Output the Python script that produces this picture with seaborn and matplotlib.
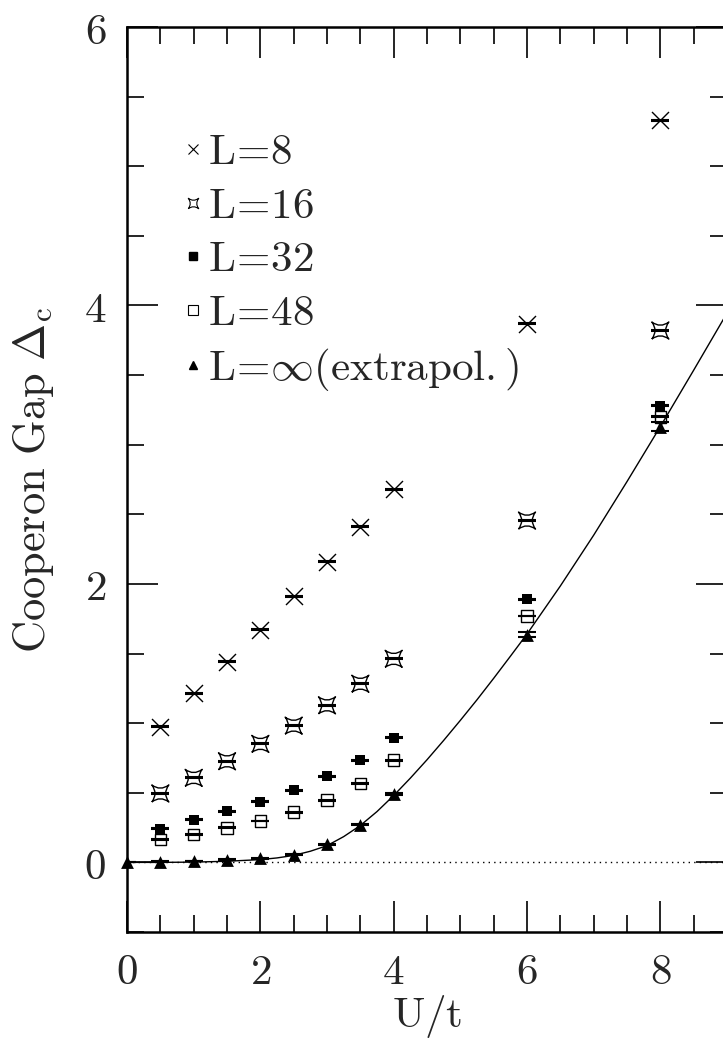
import numpy as np
import matplotlib
matplotlib.use("Agg")
import matplotlib.pyplot as plt
import seaborn as sns
from matplotlib.path import Path
from matplotlib.lines import Line2D
from matplotlib.ticker import MultipleLocator

# data
u_vals = [0.5, 1.0, 1.5, 2.0, 2.5, 3.0, 3.5, 4.0, 6.0, 8.0]
gap_L8 = [0.975, 1.215, 1.44, 1.67, 1.91, 2.16, 2.41, 2.68, 3.87, 5.33]
gap_L16 = [0.495, 0.607, 0.726, 0.851, 0.982, 1.128, 1.283, 1.462, 2.455, 3.82]
gap_L32 = [0.241, 0.308, 0.368, 0.435, 0.519, 0.619, 0.734, 0.894, 1.89, 3.28]
gap_L48 = [0.165, 0.200, 0.249, 0.297, 0.361, 0.447, 0.566, 0.734, 1.77, 3.20]
err_L = [0.003] * 10

u_inf = [0.0, 0.5, 1.0, 1.5, 2.0, 2.5, 3.0, 3.5, 4.0, 6.0, 8.0]
gap_inf = [0.0, 0.005, 0.01, 0.02, 0.03, 0.055, 0.13, 0.27, 0.49, 1.636, 3.13]
err_inf = [0.0, 0.003, 0.003, 0.003, 0.003, 0.004, 0.005, 0.005, 0.006, 0.018, 0.03]

# fitted curve
u_fit = [0.0, 0.5, 1.0, 1.5, 2.0, 2.25, 2.5, 2.75, 3.0, 3.25, 3.5, 3.75, 4.0,
         4.25, 4.5, 4.75, 5.0, 5.25, 5.5, 5.75, 6.0, 6.5, 7.0, 7.5, 8.0, 8.5, 9.0]
gap_fit = [0.0, 0.0, 0.002, 0.008, 0.02, 0.032, 0.05, 0.08, 0.12, 0.185, 0.265,
           0.365, 0.48, 0.605, 0.737, 0.876, 1.02, 1.168, 1.322, 1.48, 1.64,
           1.985, 2.35, 2.735, 3.13, 3.535, 3.945]

labels = [r'$\mathrm{L\!=\!8}$', r'$\mathrm{L\!=\!16}$', r'$\mathrm{L\!=\!32}$',
          r'$\mathrm{L\!=\!48}$', r'$\mathrm{L\!=\!\infty(extrapol.)}$']

# four-pointed star with concave sides
star_verts = [(-1, -1), (0, -0.25), (1, -1), (0.25, 0), (1, 1), (0, 0.25),
              (-1, 1), (-0.25, 0), (-1, -1)]
star_codes = [Path.MOVETO, Path.CURVE3, Path.CURVE3, Path.CURVE3, Path.CURVE3,
              Path.CURVE3, Path.CURVE3, Path.CURVE3, Path.CURVE3]
star = Path(star_verts, star_codes)

sns.set_style("ticks")
plt.rcParams['mathtext.fontset'] = 'cm'
plt.rcParams['font.family'] = ['DejaVu Sans']

fig = plt.figure(figsize=(7.23, 10.44), dpi=100)
ax = fig.add_axes([127 / 723, 112 / 1044, 600 / 723, 905 / 1044])

ax.axhline(0, color='k', lw=1, ls=(0, (1, 3)), zorder=1)
sns.lineplot(x=u_fit, y=gap_fit, ax=ax, color='k', lw=1, zorder=2, sort=False)

series = [
    (u_vals, gap_L8, err_L, dict(marker='x', s=150, color='k', linewidth=1)),
    (u_vals, gap_L16, err_L, dict(marker=star, s=150, facecolor='none', edgecolor='k', linewidth=1)),
    (u_vals, gap_L32, err_L, dict(marker='s', s=60, color='k', linewidth=0)),
    (u_vals, gap_L48, err_L, dict(marker='s', s=70, facecolor='none', edgecolor='k', linewidth=1)),
    (u_inf, gap_inf, err_inf, dict(marker='^', s=85, color='k', linewidth=0)),
]
for xs, ys, es, kw in series:
    ax.errorbar(xs, ys, yerr=es, fmt='none', ecolor='k', elinewidth=1,
                capsize=6.5, capthick=1.5, zorder=3)
    sns.scatterplot(x=xs, y=ys, ax=ax, zorder=4, clip_on=False, **kw)

handles = [
    Line2D([], [], ls='none', marker='x', ms=6.5, mew=0.8, color='k'),
    Line2D([], [], ls='none', marker=star, ms=7.5, mew=0.8, mfc='none', mec='k'),
    Line2D([], [], ls='none', marker='s', ms=6, color='k'),
    Line2D([], [], ls='none', marker='s', ms=6.5, mfc='none', mec='k', mew=0.8),
    Line2D([], [], ls='none', marker='^', ms=6, color='k'),
]
ax.legend(handles, labels, loc='upper left', bbox_to_anchor=(0.095, 0.885),
          frameon=False, fontsize=31, handlelength=0.4, handletextpad=0.15,
          labelspacing=0.27, borderpad=0, borderaxespad=0)

ax.set_xlim(0, 9)
ax.set_ylim(-0.5, 6)
ax.set_xticks([0, 2, 4, 6, 8])
ax.set_xticklabels([rf'$\mathrm{{{v}}}$' for v in [0, 2, 4, 6, 8]])
ax.set_yticks([0, 2, 4, 6])
ax.set_yticklabels([rf'$\mathrm{{{v}}}$' for v in [0, 2, 4, 6]])
ax.xaxis.set_minor_locator(MultipleLocator(0.5))
ax.yaxis.set_minor_locator(MultipleLocator(0.5))
ax.tick_params(which='both', direction='in', top=True, right=True, color='k')
ax.tick_params(which='major', length=22, width=1.2, labelsize=31)
ax.tick_params(axis='x', which='major', pad=14)
ax.tick_params(axis='y', which='major', pad=15)
ax.tick_params(which='minor', length=12, width=1.2)
for sp in ax.spines.values():
    sp.set_linewidth(1.8)
    sp.set_color('k')

ax.set_xlabel(r'$\mathrm{U/t}$', fontsize=31, labelpad=0)
ax.set_ylabel(r'$\mathrm{Cooperon\ Gap\ }\Delta_{\mathrm{c}}$', fontsize=32, labelpad=20)

fig.savefig('out.png', dpi=100)
